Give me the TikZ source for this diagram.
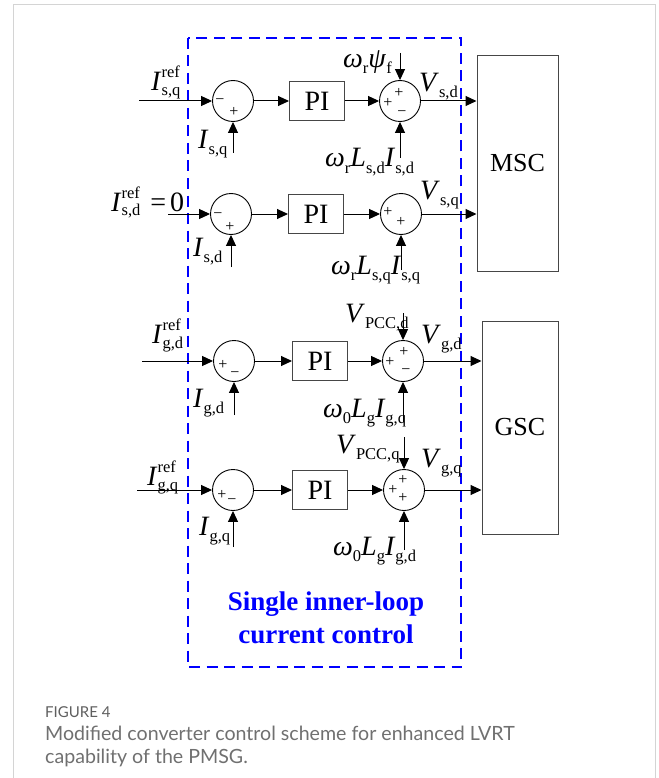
\documentclass[tikz,border=0pt]{standalone}
\usepackage{fontspec}
\setmainfont{Liberation Serif}
\newfontfamily\capfont{Lato}
\usetikzlibrary{arrows.meta,calc}
\definecolor{pureblue}{RGB}{0,0,255}
\definecolor{framegray}{RGB}{212,212,212}
\definecolor{capgray}{RGB}{112,112,112}
\definecolor{figgray}{RGB}{95,95,95}
\definecolor{boxgray}{RGB}{70,70,70}
\newcommand\Sb[1]{\raisebox{-6pt}{\fontsize{16.5}{16.5}\selectfont #1}}
\newcommand\SbSp[2]{\makebox[0pt][l]{\raisebox{13pt}{\fontsize{16.5}{16.5}\selectfont #2}}\raisebox{-5pt}{\fontsize{16.5}{16.5}\selectfont #1}}
\begin{document}
\begin{tikzpicture}[x=1pt,y=-1pt,
  arr/.style={-{Triangle[length=11pt,width=10pt]}, line width=1pt},
  sumc/.style={circle,draw,line width=0.9pt,minimum size=41pt,inner sep=0pt},
  pibox/.style={draw=boxgray,line width=1pt,minimum width=55pt,minimum height=39pt,inner sep=0pt,font=\fontsize{28}{28}\selectfont},
  conv/.style={draw=boxgray,line width=1pt,inner sep=0pt,font=\fontsize{26}{26}\selectfont},
  lbl/.style={inner sep=0pt,anchor=base west,font=\fontsize{28}{28}\selectfont},
  sgn/.style={inner sep=0pt,font=\fontsize{16}{16}\selectfont},
]
\useasboundingbox (0,0) rectangle (658,778);
\fill[white] (0,0) rectangle (658,778);
\draw[framegray, line width=1pt] (13,778) -- (13,5) -- (655,5) -- (655,778);

% converter blocks
\node[conv, minimum width=81pt, minimum height=215pt] (msc) at (517.5,163.5) {MSC};
\node[conv, minimum width=76pt, minimum height=213pt] (gsc) at (520,427.5) {GSC};

% dashed frame
\draw[pureblue, line width=1.8pt, dash pattern=on 11pt off 6.5pt] (188,38) rectangle (461,667);
\node[font=\bfseries\fontsize{27}{33}\selectfont, text=pureblue, align=center, inner sep=0pt] (title) at (326,618) {Single inner-loop\\current control};

% ---------- row 1 ----------
\coordinate (in1) at (139,101);
\node[sumc] (a1) at (233,101) {};
\node[pibox] (p1) at (317,101) {PI};
\node[sumc] (b1) at (400,101) {};
\coordinate (f1) at (233,153);
\coordinate (t1) at (400,53);
\coordinate (u1) at (400,158);
\draw[arr] (in1) -- (a1.west);
\draw[arr] (a1.east) -- (p1.west);
\draw[arr] (p1.east) -- (b1.west);
\draw[arr] (b1.east) -- (b1.east -| msc.west);
\draw[arr] (f1) -- (a1.south);
\draw[arr] (t1) -- (b1.north);
\draw[arr] (u1) -- (b1.south);
\node[sgn] at ($(a1)+(-13,1)$) {−};
\node[sgn] at ($(a1)+(1,11)$) {+};
\node[sgn] at ($(b1)+(-12,2)$) {+};
\node[sgn] at ($(b1)+(-1,-8)$) {+};
\node[sgn] at ($(b1)+(2,13)$) {−};
\node[lbl] (l1a) at (151,91) {\textit{I}\SbSp{s,q}{ref}};
\node[lbl] (l1b) at (198,149) {\textit{I}\Sb{s,q}};
\node[lbl] (l1c) at (343,68) {\textit{ω}\Sb{r}\textit{ψ}\Sb{f}};
\node[lbl] (l1d) at (419,92) {\textit{V}\Sb{s,d}};
\node[lbl] (l1e) at (325,167) {\textit{ω}\Sb{r}\textit{L}\Sb{s,d}\textit{I}\Sb{s,d}};

% ---------- row 2 ----------
\coordinate (in2) at (168,214);
\node[sumc] (a2) at (231,214) {};
\node[pibox] (p2) at (316,214) {PI};
\node[sumc] (b2) at (401,214) {};
\coordinate (f2) at (231,267);
\coordinate (u2) at (401,270);
\draw[arr] (in2) -- (a2.west);
\draw[arr] (a2.east) -- (p2.west);
\draw[arr] (p2.east) -- (b2.west);
\draw[arr] (b2.east) -- (b2.east -| msc.west);
\draw[arr] (f2) -- (a2.south);
\draw[arr] (u2) -- (b2.south);
\node[sgn] at ($(a2)+(-13,2)$) {−};
\node[sgn] at ($(a2)+(-1,13)$) {+};
\node[sgn] at ($(b2)+(-13,-2)$) {+};
\node[sgn] at ($(b2)+(0,8)$) {+};
\node[lbl] (l2a) at (111,211) {\textit{I}\SbSp{s,d}{ref}\hspace{10pt}=\hspace{4pt}0};
\node[lbl] (l2b) at (193,256) {\textit{I}\Sb{s,d}};
\node[lbl] (l2d) at (420,199) {\textit{V}\Sb{s,q}};
\node[lbl] (l2e) at (331,274) {\textit{ω}\Sb{r}\textit{L}\Sb{s,q}\textit{I}\Sb{s,q}};

% ---------- row 3 ----------
\coordinate (in3) at (142,361);
\node[sumc] (a3) at (234,361) {};
\node[pibox] (p3) at (320,361) {PI};
\node[sumc] (b3) at (403,361) {};
\coordinate (f3) at (234,415);
\coordinate (t3) at (403,313);
\coordinate (u3) at (403,422);
\draw[arr] (in3) -- (a3.west);
\draw[arr] (a3.east) -- (p3.west);
\draw[arr] (p3.east) -- (b3.west);
\draw[arr] (b3.east) -- (b3.east -| gsc.west);
\draw[arr] (f3) -- (a3.south);
\draw[arr] (t3) -- (b3.north);
\draw[arr] (u3) -- (b3.south);
\node[sgn] at ($(a3)+(-11,4)$) {+};
\node[sgn] at ($(a3)+(1,14)$) {−};
\node[sgn] at ($(b3)+(-13,1)$) {+};
\node[sgn] at ($(b3)+(1,-9)$) {+};
\node[sgn] at ($(b3)+(3,11)$) {−};
\node[lbl] (l3a) at (152,343) {\textit{I}\SbSp{g,d}{ref}};
\node[lbl] (l3b) at (193,407) {\textit{I}\Sb{g,d}};
\node[lbl] (l3c) at (345,322) {\textit{V}\Sb{PCC,d}};
\node[lbl] (l3d) at (421,343) {\textit{V}\Sb{g,d}};
\node[lbl] (l3e) at (323,417) {\textit{ω}\Sb{0}\textit{L}\Sb{g}\textit{I}\Sb{g,q}};

% ---------- row 4 ----------
\coordinate (in4) at (137,490);
\node[sumc] (a4) at (233,490) {};
\node[pibox] (p4) at (320,490) {PI};
\node[sumc] (b4) at (404,490) {};
\coordinate (f4) at (233,547);
\coordinate (t4) at (404,437);
\coordinate (u4) at (404,550);
\draw[arr] (in4) -- (a4.west);
\draw[arr] (a4.east) -- (p4.west);
\draw[arr] (p4.east) -- (b4.west);
\draw[arr] (b4.east) -- (b4.east -| gsc.west);
\draw[arr] (f4) -- (a4.south);
\draw[arr] (t4) -- (b4.north);
\draw[arr] (u4) -- (b4.south);
\node[sgn] at ($(a4)+(-11,5)$) {+};
\node[sgn] at ($(a4)+(-1,12)$) {−};
\node[sgn] at ($(b4)+(-11,0)$) {+};
\node[sgn] at ($(b4)+(-1,-10)$) {+};
\node[sgn] at ($(b4)+(-1,8)$) {+};
\node[lbl] (l4a) at (147,485) {\textit{I}\SbSp{g,q}{ref}};
\node[lbl] (l4b) at (199,535) {\textit{I}\Sb{g,q}};
\node[lbl] (l4c) at (336,453) {\textit{V}\Sb{PCC,q}};
\node[lbl] (l4d) at (421,467) {\textit{V}\Sb{g,q}};
\node[lbl] (l4e) at (333,555) {\textit{ω}\Sb{0}\textit{L}\Sb{g}\textit{I}\Sb{g,d}};

% caption
\node[inner sep=0pt, anchor=base west, font=\capfont\fontsize{15}{15}\selectfont, text=figgray] (fig) at (45,717) {FIGURE 4};
\node[inner sep=0pt, anchor=base west, font=\capfont\fontsize{19.6}{19.6}\selectfont, text=capgray] (cap1) at (45,740) {Modified converter control scheme for enhanced LVRT};
\node[inner sep=0pt, anchor=base west, font=\capfont\fontsize{19.6}{19.6}\selectfont, text=capgray] (cap2) at (45,763) {capability of the PMSG.};
\end{tikzpicture}
\end{document}
